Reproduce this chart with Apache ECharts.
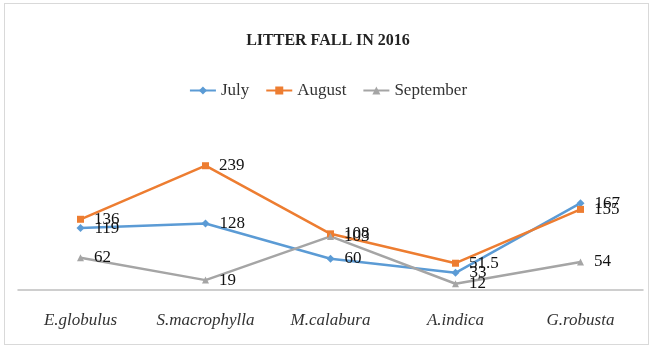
<!DOCTYPE html>
<html>
<head>
<meta charset="utf-8">
<script src="https://cdn.jsdelivr.net/npm/echarts@6/dist/echarts.min.js"></script>
<style>
  html, body { margin: 0; padding: 0; background: #fff; }
  #frame { position: absolute; left: 4px; top: 3px; width: 645px; height: 342px; border: 1px solid #d9d9d9; box-sizing: border-box; }
  #chart { position: absolute; left: 0; top: 0; width: 656px; height: 349px; }
</style>
</head>
<body>
<div id="frame"></div>
<div id="chart"></div>
<script>
// Litter fall per species, by month (2016)
const species = ['E.globulus', 'S.macrophylla', 'M.calabura', 'A.indica', 'G.robusta'];
const july = [119, 128, 60, 33, 167];
const august = [136, 239, 108, 51.5, 155];
const september = [62, 19, 103, 12, 54];

const serif = '"Liberation Serif", "DejaVu Serif", serif';

function lineSeries(name, data, color, symbol, size) {
  return {
    name: name,
    type: 'line',
    data: data,
    symbol: symbol,
    symbolSize: size,
    itemStyle: { color: color },
    lineStyle: { color: color, width: 2.5 },
    label: {
      show: true,
      position: 'right',
      distance: 10,
      color: '#111',
      fontFamily: serif,
      fontSize: 17
    }
  };
}

const chart = echarts.init(document.getElementById('chart'));
chart.setOption({
  backgroundColor: 'transparent',
  animation: false,
  title: {
    text: 'LITTER FALL IN 2016',
    left: 'center',
    top: 28,
    textStyle: { fontFamily: serif, fontWeight: 'bold', fontSize: 16, color: '#222' }
  },
  legend: {
    top: 77,
    left: 'center',
    itemWidth: 26,
    itemHeight: 10,
    itemGap: 16,
    textStyle: { fontFamily: serif, fontSize: 17, color: '#333' },
    data: ['July', 'August', 'September']
  },
  grid: { left: 18, right: 13, top: 134, bottom: 59 },
  xAxis: {
    type: 'category',
    data: species,
    boundaryGap: true,
    axisLine: { lineStyle: { color: '#bfbfbf', width: 1.5 } },
    axisTick: { show: false },
    axisLabel: {
      interval: 0,
      margin: 22,
      fontFamily: serif,
      fontStyle: 'italic',
      fontSize: 17,
      color: '#333'
    }
  },
  yAxis: {
    type: 'value',
    min: 0,
    max: 300,
    show: false
  },
  series: [
    lineSeries('July', july, '#5B9BD5', 'diamond', 8),
    lineSeries('August', august, '#ED7D31', 'rect', 7),
    lineSeries('September', september, '#A5A5A5', 'triangle', 7)
  ]
});
</script>
</body>
</html>
